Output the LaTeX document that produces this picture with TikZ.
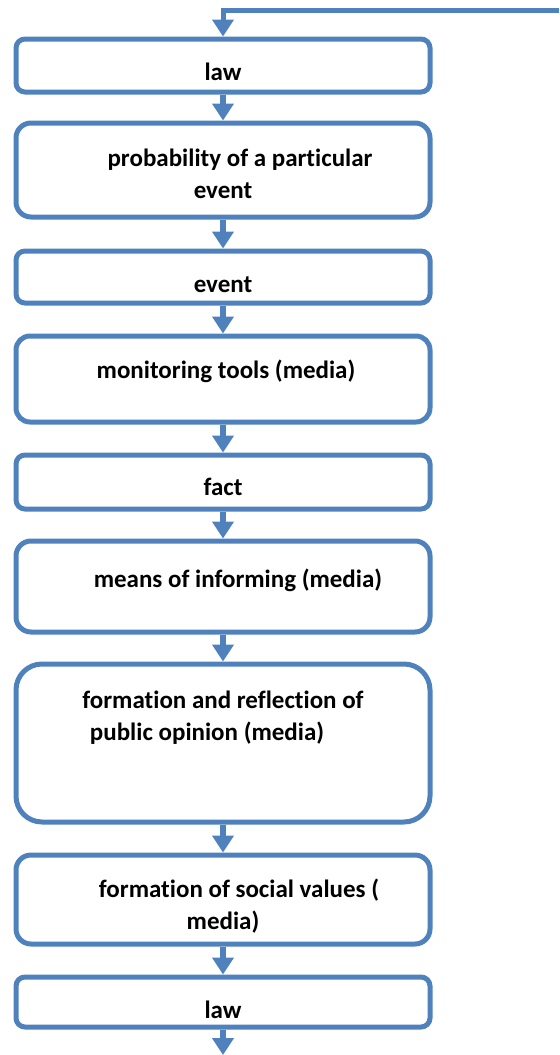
\documentclass[tikz,border=0pt]{standalone}
\usepackage{fontspec}
\setmainfont[Ligatures=NoCommon]{Carlito}
\usetikzlibrary{arrows.meta}
\definecolor{boxblue}{RGB}{79,129,189}
% struts that move a label down (taller first line) or up (deeper last line)
\newcommand{\padtop}[1]{\rule{0pt}{#1}}
\newcommand{\padbottom}[1]{\rule[-#1]{0pt}{0pt}}

\begin{document}
\begin{tikzpicture}[x=0.5pt, y=-0.5pt,
      box/.style = {shape=rectangle, draw=boxblue, line width=2.5pt,
        rounded corners=#1, align=center, minimum width=207pt,
        inner sep=0pt, font=\fontsize{12.5}{16}\selectfont\bfseries},
      box/.default = 4.5pt,
      flow/.style = {draw=boxblue, line width=3pt,
        -{Triangle[width=10.5pt, length=8.5pt]}}]
      \useasboundingbox (0,0) rectangle (559,1055);
      % the chain of boxes, top to bottom
      \node[box, minimum height=26.5pt] (law) at (223,65.5)
        {\padtop{15.5pt}law};
      \node[box=7.5pt, minimum height=47pt] (prob) at (223,170)
        {\padtop{12.5pt}\hspace*{17pt}probability of a particular\\event};
      \node[box, minimum height=26pt] (event) at (223,277)
        {\padtop{15.5pt}event};
      \node[box=7pt, minimum height=43pt] (monitor) at (223,379)
        {\hspace*{3pt}monitoring tools (media)\padbottom{10pt}};
      \node[box, minimum height=27pt] (fact) at (223,482)
        {\padtop{13.5pt}fact};
      \node[box=7.5pt, minimum height=45.5pt] (inform) at (223,586.5)
        {\hspace*{15pt}means of informing (media)\padbottom{8pt}};
      \node[box=13pt, minimum height=79pt] (opinion) at (223,743)
        {formation and reflection of\\
         public opinion (media)\hspace*{16pt}\padbottom{27pt}};
      \node[box=7.5pt, minimum height=44.5pt] (values) at (223,899.5)
        {\padtop{15.5pt}\hspace*{16pt}formation of social values (\\media)};
      \node[box, minimum height=25pt] (lawend) at (223,1002)
        {\padtop{16.5pt}law};
      \coordinate (feed) at (559,10);
      \coordinate (out) at (223,1055);
      % connectors
      \draw[flow, line width=2.5pt] (feed) -| (law.north);
      \foreach \a/\b in {law/prob, prob/event, event/monitor, monitor/fact,
          fact/inform, inform/opinion, opinion/values, values/lawend}
        \draw[flow] (\a.south) -- (\b.north);
      \draw[flow] (lawend.south) -- (out);
\end{tikzpicture}
\end{document}
